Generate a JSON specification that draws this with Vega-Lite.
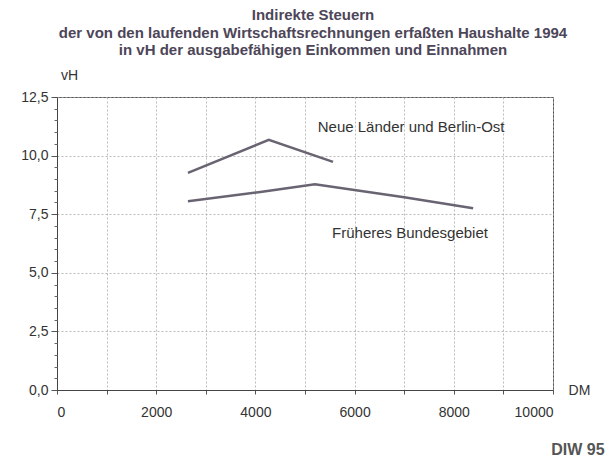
{
  "$schema": "https://vega.github.io/schema/vega-lite/v6.json",
  "autosize": "none",
  "width": 496,
  "height": 293,
  "padding": {"left": 57, "top": 97, "right": 54, "bottom": 73},
  "background": "white",
  "config": {
    "font": "Liberation Sans",
    "view": {"stroke": "#555", "strokeWidth": 1}
  },
  "title": {
    "text": ["Indirekte Steuern", "der von den laufenden Wirtschaftsrechnungen erfaßten Haushalte 1994", "in vH der ausgabefähigen Einkommen und Einnahmen"],
    "anchor": "middle",
    "fontSize": 15,
    "fontWeight": "bold",
    "color": "#4d4658",
    "lineHeight": 17.5,
    "offset": 10,
    "dx": 8
  },
  "datasets": {
    "lines": [
      {"series": "Neue Länder und Berlin-Ost", "dm": 2640, "vh": 9.26},
      {"series": "Neue Länder und Berlin-Ost", "dm": 4270, "vh": 10.67},
      {"series": "Neue Länder und Berlin-Ost", "dm": 5565, "vh": 9.73},
      {"series": "Früheres Bundesgebiet", "dm": 2640, "vh": 8.05},
      {"series": "Früheres Bundesgebiet", "dm": 4100, "vh": 8.45},
      {"series": "Früheres Bundesgebiet", "dm": 5200, "vh": 8.78},
      {"series": "Früheres Bundesgebiet", "dm": 7000, "vh": 8.22},
      {"series": "Früheres Bundesgebiet", "dm": 8390, "vh": 7.75}
    ],
    "labels": [
      {"label": "Neue Länder und Berlin-Ost", "dm": 7140, "vh": 11.22},
      {"label": "Früheres Bundesgebiet", "dm": 7117, "vh": 6.7}
    ],
    "source": [
      {"label": "DIW 95", "dm": 11040, "vh": -2.56}
    ]
  },
  "layer": [
    {
      "data": {"name": "lines"},
      "mark": {"type": "line", "color": "#6a6372", "strokeWidth": 2.5},
      "encoding": {
        "x": {
          "field": "dm", "type": "quantitative",
          "scale": {"domain": [0, 10000], "nice": false},
          "axis": {
            "values": [0, 1000, 2000, 3000, 4000, 5000, 6000, 7000, 8000, 9000, 10000],
            "labelExpr": "datum.value % 2000 == 0 ? format(datum.value, 'd') : ''",
            "title": "DM",
            "titleX": 522, "titleY": 0, "titleAlign": "center", "titleBaseline": "middle",
            "titleFontSize": 14, "titleFontWeight": "normal", "titleColor": "#333",
            "labelFontSize": 14, "labelColor": "#333", "labelPadding": 11,
            "domainColor": "#444", "tickColor": "#555", "tickSize": 4,
            "gridColor": "#aaa", "gridDash": [2, 2], "gridWidth": 0.8
          }
        },
        "y": {
          "field": "vh", "type": "quantitative",
          "scale": {"domain": [0, 12.5], "nice": false},
          "axis": {
            "values": [0, 2.5, 5, 7.5, 10, 12.5],
            "labelExpr": "replace(format(datum.value, '.1f'), '.', ',')",
            "title": "vH",
            "titleAngle": 0, "titleX": 12, "titleY": -22, "titleAlign": "center", "titleBaseline": "middle",
            "titleFontSize": 14, "titleFontWeight": "normal", "titleColor": "#333",
            "labelFontSize": 14, "labelColor": "#333", "labelPadding": 3,
            "domainColor": "#444", "tickColor": "#555", "tickSize": 6,
            "gridColor": "#aaa", "gridDash": [2, 2], "gridWidth": 0.8
          }
        },
        "detail": {"field": "series"}
      }
    },
    {
      "data": {"values": [{"v": 0}]},
      "mark": {"type": "point", "opacity": 0},
      "encoding": {
        "y": {
          "field": "v", "type": "quantitative",
          "axis": {
            "orient": "left",
            "values": [0.5, 1, 1.5, 2, 3, 3.5, 4, 4.5, 5.5, 6, 6.5, 7, 8, 8.5, 9, 9.5, 10.5, 11, 11.5, 12],
            "labels": false, "grid": false, "domain": false, "title": null,
            "tickSize": 3, "tickColor": "#666"
          }
        }
      }
    },
    {
      "data": {"name": "labels"},
      "mark": {"type": "text", "fontSize": 15, "color": "#333", "align": "center", "baseline": "middle"},
      "encoding": {
        "x": {"field": "dm", "type": "quantitative"},
        "y": {"field": "vh", "type": "quantitative", "axis": null},
        "text": {"field": "label"}
      }
    },
    {
      "data": {"name": "source"},
      "mark": {"type": "text", "fontSize": 16, "fontWeight": "bold", "color": "#555", "align": "right", "baseline": "middle"},
      "encoding": {
        "x": {"field": "dm", "type": "quantitative"},
        "y": {"field": "vh", "type": "quantitative", "axis": null},
        "text": {"field": "label"}
      }
    }
  ],
  "resolve": {"axis": {"y": "independent"}}
}
